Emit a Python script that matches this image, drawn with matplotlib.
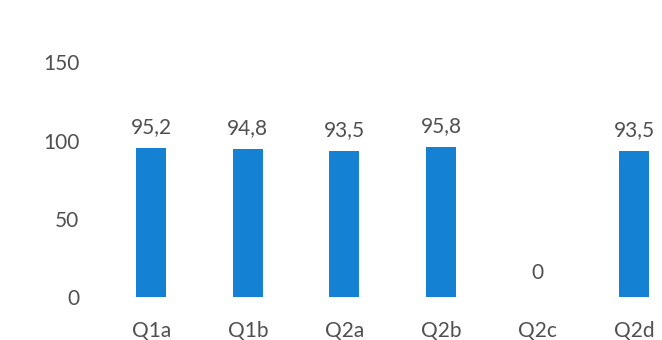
import matplotlib
matplotlib.use("Agg")
import matplotlib.pyplot as plt

categories = ["Q1a", "Q1b", "Q2a", "Q2b", "Q2c", "Q2d"]
values = [95.2, 94.8, 93.5, 95.8, 0, 93.5]
yticks = [0, 50, 100, 150]

plt.rcParams['font.family'] = ['Lato', 'DejaVu Sans']
grey = '#505050'

fig = plt.figure(figsize=(6.62, 3.40), dpi=100)
ax = fig.add_axes([0.1556, 0.1265, 0.8444, 0.6897])

x = range(len(categories))
ax.bar(x, values, width=0.31, color='#1581D3')

for xi, v in zip(x, values):
    txt = ('%.1f' % v).replace('.', ',') if v else '0'
    ax.annotate(txt, (xi, v), xytext=(0, 8 if v else 10), textcoords='offset points',
                ha='center', va='bottom', fontsize=15, color=grey)

ax.set_xlim(-0.5, 5.29)
ax.set_ylim(0, 150)
ax.set_yticks(yticks)
ax.set_xticks(list(x))
ax.set_xticklabels(categories)
ax.tick_params(length=0, labelsize=15, colors=grey)
ax.tick_params(axis='y', pad=17)
ax.tick_params(axis='x', pad=17)
for s in ax.spines.values():
    s.set_visible(False)

fig.savefig('out.png', dpi=100)
